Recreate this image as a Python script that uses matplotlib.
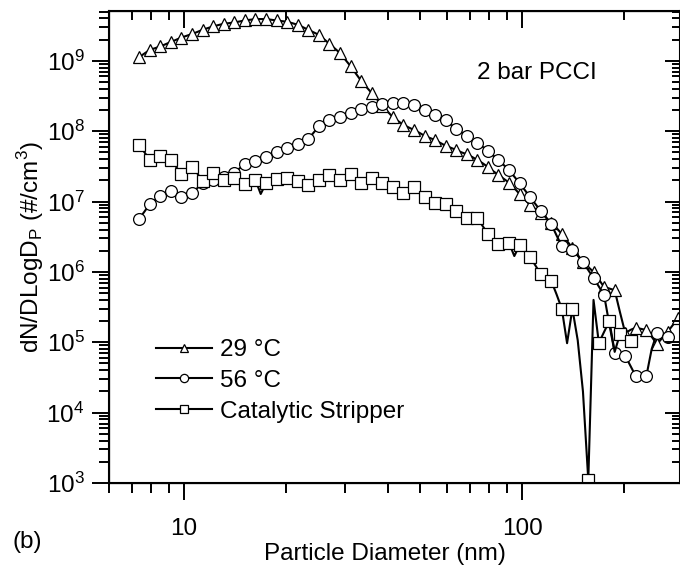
import numpy as np
import matplotlib
matplotlib.use("Agg")
import matplotlib.pyplot as plt
from matplotlib.ticker import FixedLocator, NullFormatter, LogLocator

plt.rcParams['font.family'] = ['Liberation Sans', 'DejaVu Sans']
plt.rcParams['font.size'] = 17.5

# SMPS channel mid-points (nm), 64 channels per decade
diameter = [7.37, 7.64, 7.92, 8.21, 8.51, 8.82, 9.15, 9.48, 9.83, 10.19,
            10.56, 10.95, 11.35, 11.77, 12.20, 12.64, 13.11, 13.59, 14.08, 14.60,
            15.13, 15.69, 16.26, 16.86, 17.48, 18.12, 18.78, 19.47, 20.18, 20.92,
            21.69, 22.48, 23.31, 24.16, 25.04, 25.96, 26.91, 27.90, 28.92, 29.98,
            31.08, 32.22, 33.40, 34.62, 35.89, 37.21, 38.57, 39.98, 41.45, 42.97,
            44.54, 46.17, 47.86, 49.62, 51.44, 53.32, 55.27, 57.30, 59.40, 61.57,
            63.83, 66.17, 68.59, 71.11, 73.70, 76.40, 79.20, 82.10, 85.11, 88.23,
            91.46, 94.81, 98.28, 101.9, 105.6, 109.5, 113.5, 117.6, 121.9, 126.4,
            131.0, 135.8, 140.8, 146.0, 151.3, 156.9, 162.6, 168.6, 174.7, 181.1,
            187.8, 194.6, 201.8, 209.2, 216.8, 224.8, 233.0, 241.6, 250.4, 259.6,
            269.1, 278.9, 289.2, 299.8]

nan = np.nan

# 29 degC
n_29 = [1.13e9, 1.27e9, 1.43e9, 1.51e9, 1.60e9, 1.72e9, 1.85e9, 1.99e9, 2.14e9, 2.27e9,
        2.40e9, 2.57e9, 2.76e9, 2.92e9, 3.08e9, 3.22e9, 3.36e9, 3.43e9, 3.51e9, 3.62e9,
        3.74e9, 3.83e9, 3.92e9, 3.92e9, 3.92e9, 3.83e9, 3.74e9, 3.66e9, 3.59e9, 3.42e9,
        3.25e9, 3.0e9, 2.76e9, 2.54e9, 2.34e9, 2.02e9, 1.75e9, 1.50e9, 1.29e9, 1.04e9,
        8.4e8, 6.6e8, 5.2e8, 4.25e8, 3.48e8, 2.84e8, 2.31e8, 1.91e8, 1.58e8, 1.39e8,
        1.23e8, 1.13e8, 1.04e8, 9.5e7, 8.6e7, 8.0e7, 7.5e7, 6.8e7, 6.2e7, 5.8e7,
        5.4e7, 5.0e7, 4.7e7, 4.3e7, 3.9e7, 3.5e7, 3.1e7, 2.7e7, 2.39e7, 2.1e7,
        1.86e7, 1.55e7, 1.28e7, 1.07e7, 8.9e6, 7.8e6, 6.9e6, 5.9e6, 5.0e6, 4.2e6,
        3.46e6, 2.75e6, 2.19e6, 1.74e6, 1.38e6, 1.17e6, 1.0e6, 7.8e5, 6.1e5, 5.8e5,
        5.5e5, 2.7e5, 1.35e5, 1.5e5, 1.61e5, 1.55e5, 1.49e5, 1.2e5, 9.4e4, 1.15e5,
        1.40e5, 1.75e5, 2.2e5, 1.5e5]

# 56 degC
n_56 = [5.7e6, 7.2e6, 9.2e6, 1.05e7, 1.20e7, 1.31e7, 1.43e7, 1.29e7, 1.17e7, 1.24e7,
        1.31e7, 1.55e7, 1.82e7, 1.92e7, 2.03e7, 2.14e7, 2.26e7, 2.41e7, 2.58e7, 2.96e7,
        3.40e7, 3.6e7, 3.82e7, 4.08e7, 4.35e7, 4.7e7, 5.1e7, 5.4e7, 5.7e7, 6.1e7,
        6.6e7, 7.1e7, 7.7e7, 9.5e7, 1.17e8, 1.29e8, 1.42e8, 1.49e8, 1.57e8, 1.68e8,
        1.80e8, 1.93e8, 2.06e8, 2.11e8, 2.17e8, 2.29e8, 2.42e8, 2.46e8, 2.50e8, 2.50e8,
        2.50e8, 2.43e8, 2.37e8, 2.18e8, 2.01e8, 1.85e8, 1.71e8, 1.56e8, 1.42e8, 1.24e8,
        1.08e8, 9.6e7, 8.6e7, 7.6e7, 6.7e7, 6.0e7, 5.3e7, 4.5e7, 3.9e7, 3.3e7,
        2.82e7, 2.26e7, 1.82e7, 1.45e7, 1.15e7, 9.2e6, 7.3e6, 5.9e6, 4.8e6, 3.3e6,
        2.34e6, 2.2e6, 2.08e6, 1.7e6, 1.38e6, 1.06e6, 8.2e5, 6.2e5, 4.7e5, 1.8e5,
        7.1e4, 6.8e4, 6.4e4, 4.6e4, 3.3e4, 3.3e4, 3.3e4, 8.0e4, 1.35e5, 1.25e5,
        1.19e5, nan, nan, nan]

# Catalytic stripper
n_cs = [6.3e7, 5.0e7, 3.9e7, 4.2e7, 4.45e7, 4.2e7, 3.9e7, 3.1e7, 2.49e7, 2.8e7,
        3.14e7, 2.5e7, 1.96e7, 2.25e7, 2.58e7, 2.27e7, 2.0e7, 2.08e7, 2.17e7, 1.97e7,
        1.78e7, 1.9e7, 2.03e7, 1.28e7, 1.82e7, 1.96e7, 2.12e7, 2.13e7, 2.14e7, 2.05e7,
        1.96e7, 1.84e7, 1.72e7, 1.87e7, 2.03e7, 2.18e7, 2.35e7, 2.18e7, 2.03e7, 2.24e7,
        2.48e7, 2.15e7, 1.86e7, 2.0e7, 2.14e7, 2.0e7, 1.86e7, 1.74e7, 1.63e7, 1.48e7,
        1.34e7, 1.46e7, 1.60e7, 1.37e7, 1.17e7, 1.06e7, 9.6e6, 9.4e6, 9.2e6, 8.2e6,
        7.3e6, 6.5e6, 5.8e6, 5.8e6, 5.8e6, 4.5e6, 3.46e6, 2.95e6, 2.49e6, 2.53e6,
        2.58e6, 1.68e6, 2.39e6, 2.0e6, 1.63e6, 1.23e6, 9.3e5, 8.4e5, 7.5e5, 4.8e5,
        3.0e5, 9.7e4, 3.0e5, 1.07e5, 2.0e4, 1.1e3, 4.0e5, 9.8e4, 1.4e5, 2.0e5,
        7.3e4, 1.3e5, 1.1e5, 1.05e5, nan, nan, nan, nan, nan, nan,
        nan, nan, nan, nan]

marks_cs = list(range(0, 83, 2)) + [85, 87, 89, 91, 93]

labels = ["29 \u00b0C", "56 \u00b0C", "Catalytic Stripper"]

fig = plt.figure(figsize=(6.8, 5.66), dpi=100)
ax = fig.add_axes([109 / 680, 1 - 483 / 566, 571 / 680, 472 / 566])

style = dict(color="black", lw=1.5, mfc="white", mec="black", mew=0.9, ms=8.5, clip_on=True)
ax.plot(diameter, n_29, marker="^", markevery=2, label=labels[0], **style)
ax.plot(diameter, n_56, marker="o", markevery=2, label=labels[1], **style)
ax.plot(diameter, n_cs, marker="s", markevery=marks_cs, label=labels[2], **dict(style, ms=8))

ax.set_xscale("log")
ax.set_yscale("log")
xlim = (6.0, 293)
ylim = (1e3, 5.1e9)
ax.set_xlim(xlim)
ax.set_ylim(ylim)

ax.xaxis.set_major_locator(FixedLocator([10, 100]))
ax.set_xticklabels(["10", "100"])
ax.xaxis.set_minor_locator(FixedLocator([6, 7, 8, 9, 20, 30, 40, 50, 60, 70, 80, 90, 200]))
ax.xaxis.set_minor_formatter(NullFormatter())
ax.yaxis.set_major_locator(LogLocator(base=10, numticks=20))
ax.yaxis.set_minor_locator(LogLocator(base=10, subs=np.arange(2, 10), numticks=20))
ax.yaxis.set_minor_formatter(NullFormatter())

ax.tick_params(which="major", direction="out", length=12.5, width=1.4)
ax.tick_params(which="minor", direction="out", length=7, width=1.4)
ax.tick_params(axis="x", which="major", pad=13)
ax.tick_params(axis="y", which="major", pad=5)
for s in ax.spines.values():
    s.set_linewidth(1.5)

# inward ticks on top and right
top = ax.twiny()
top.set_xscale("log")
top.set_xlim(xlim)
top.xaxis.set_major_locator(FixedLocator([10, 100]))
top.xaxis.set_minor_locator(FixedLocator([6, 7, 8, 9, 20, 30, 40, 50, 60, 70, 80, 90, 200]))
top.xaxis.set_major_formatter(NullFormatter())
top.xaxis.set_minor_formatter(NullFormatter())
top.tick_params(which="both", direction="in", labeltop=False, labelbottom=False, width=1.4)
top.tick_params(which="major", length=12.5)
top.tick_params(which="minor", length=6.5)

right = ax.twinx()
right.set_yscale("log")
right.set_ylim(ylim)
right.yaxis.set_major_locator(LogLocator(base=10, numticks=20))
right.yaxis.set_minor_locator(LogLocator(base=10, subs=np.arange(2, 10), numticks=20))
right.yaxis.set_major_formatter(NullFormatter())
right.yaxis.set_minor_formatter(NullFormatter())
right.tick_params(which="both", direction="in", labelright=False, labelleft=False, width=1.4)
right.tick_params(which="major", length=11)
right.tick_params(which="minor", length=5.5)

ax.set_xlabel("Particle Diameter (nm)")
ax.xaxis.set_label_coords(0.483, -0.127)
ax.set_ylabel("dN/DLogD$_\\mathregular{P}$ (#/cm$^\\mathregular{3}$)")
ax.yaxis.set_label_coords(-0.11, 0.50)

ax.text(0.75, 0.869, "2 bar PCCI", transform=ax.transAxes, ha="center", va="center")
fig.text(0.019, 0.042, "(b)", ha="left", va="center")

ax.legend(loc="upper left", bbox_to_anchor=(0.083, 0.305), frameon=False,
          handlelength=2.3, handletextpad=0.3, labelspacing=0.36,
          borderpad=0, borderaxespad=0, markerscale=0.7)

fig.savefig("out.png", dpi=100)
